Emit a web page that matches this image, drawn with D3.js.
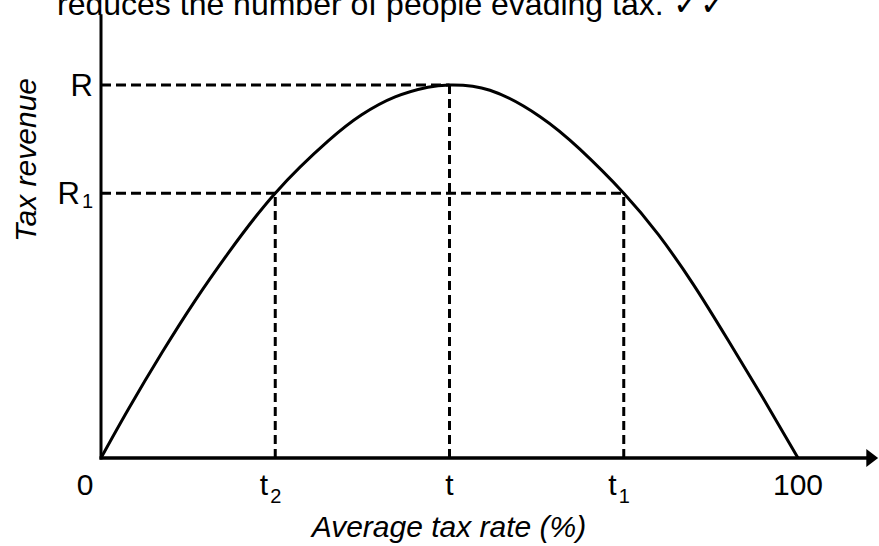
<!DOCTYPE html>
<html>
<head>
<meta charset="utf-8">
<script src="https://cdn.jsdelivr.net/npm/d3@7"></script>
<style>
  html, body { margin: 0; padding: 0; background: #fff; }
  text { font-family: 'Liberation Sans', Arial, sans-serif; fill: #000; }
</style>
</head>
<body>
<div id="chart"></div>
<script>
// Laffer curve (tax rate %, revenue as % of peak R)
const taxRate = [0, 3.9, 8.8, 13.5, 18.2, 25, 32.6, 37.4, 42.2, 46.9, 50, 55.8, 63, 68.7, 75, 80, 85, 90, 95, 100];
const revenue = [0, 13, 28.4, 42.2, 54.8, 71, 85, 92, 96.8, 99.4, 100, 98.6, 91.5, 82.8, 71, 59.8, 46.5, 31.5, 16, 0];

const xTickValues = [0, 25, 50, 75, 100];
const xTickLabels = ['0', 't', 't', 't', '100'];
const xTickSubs = ['', '2', '', '1', ''];

const yTickValues = [100, 71];
const yTickLabels = ['R', 'R'];
const yTickSubs = ['', '1'];

// dashed guides: [rate, revenue]
const guideRates = [25, 50, 75];
const guideRevenue = [71, 100, 71];

const width = 879;
const height = 546;

const svg = d3
  .select('#chart')
  .append('svg')
  .attr('width', width)
  .attr('height', height);

const x = d3.scaleLinear().domain([0, 100]).range([101, 798]);
const y = d3.scaleLinear().domain([0, 100]).range([458, 85]);

// caption cut off at the top (as in the source)
svg
  .append('text')
  .attr('x', 57)
  .attr('y', 15)
  .style('font-size', '32px')
  .text('reduces the number of people evading tax. \u2713\u2713');

// dashed guides
const guides = guideRates.map((r, i) => ({ r: r, v: guideRevenue[i] }));

svg
  .selectAll('.vguide')
  .data(guides)
  .enter()
  .append('line')
  .attr('class', 'vguide')
  .attr('x1', (d) => x(d.r))
  .attr('x2', (d) => x(d.r))
  .attr('y1', y(0))
  .attr('y2', (d) => y(d.v))
  .style('stroke', '#000')
  .style('stroke-width', 3)
  .style('stroke-dasharray', '9,5');

svg
  .selectAll('.hguide')
  .data(guides.filter((d) => d.r >= 50))
  .enter()
  .append('line')
  .attr('class', 'hguide')
  .attr('x1', x(0))
  .attr('x2', (d) => x(d.r))
  .attr('y1', (d) => y(d.v))
  .attr('y2', (d) => y(d.v))
  .style('stroke', '#000')
  .style('stroke-width', 3)
  .style('stroke-dasharray', '10,5');

// the curve
const points = taxRate.map((r, i) => [r, revenue[i]]);
const line = d3
  .line()
  .x((d) => x(d[0]))
  .y((d) => y(d[1]))
  .curve(d3.curveNatural);

svg
  .append('path')
  .datum(points)
  .attr('d', line)
  .style('fill', 'none')
  .style('stroke', '#000')
  .style('stroke-width', 3);

// axes
svg
  .append('line')
  .attr('x1', x(0))
  .attr('x2', x(0))
  .attr('y1', y(0) + 1.5)
  .attr('y2', y(119))
  .style('stroke', '#000')
  .style('stroke-width', 3);

svg
  .append('line')
  .attr('x1', x(0) - 1.5)
  .attr('x2', x(110))
  .attr('y1', y(0))
  .attr('y2', y(0))
  .style('stroke', '#000')
  .style('stroke-width', 3.5);

svg
  .append('path')
  .attr('d', `M${x(109.8)},${y(0) - 9}L${x(111.5)},${y(0)}L${x(109.8)},${y(0) + 9}Z`)
  .style('fill', '#000');

// x tick labels
const xLabels = svg
  .selectAll('.xlabel')
  .data(xTickValues)
  .enter()
  .append('text')
  .attr('class', 'xlabel')
  .attr('x', (d, i) => {
    if (i === 0) return x(d) - 16;
    if (xTickSubs[i]) return x(d) + 6;
    return x(d);
  })
  .attr('y', 495)
  .attr('text-anchor', (d, i) => (xTickSubs[i] ? 'end' : 'middle'))
  .style('font-size', '30px');

xLabels.append('tspan').text((d, i) => xTickLabels[i]);
xLabels
  .append('tspan')
  .attr('dx', 2)
  .attr('dy', 8)
  .style('font-size', '20px')
  .text((d, i) => xTickSubs[i]);

// y tick labels
const yLabels = svg
  .selectAll('.ylabel')
  .data(yTickValues)
  .enter()
  .append('text')
  .attr('class', 'ylabel')
  .attr('x', 93)
  .attr('y', (d) => y(d) + 11)
  .attr('text-anchor', 'end')
  .style('font-size', '31px');

yLabels.append('tspan').text((d, i) => yTickLabels[i]);
yLabels
  .append('tspan')
  .attr('dx', 2)
  .attr('dy', 4)
  .style('font-size', '20px')
  .text((d, i) => yTickSubs[i]);

// axis titles
svg
  .append('text')
  .attr('x', 449)
  .attr('y', 537)
  .attr('text-anchor', 'middle')
  .style('font-size', '30px')
  .style('font-style', 'italic')
  .text('Average tax rate (%)');

svg
  .append('text')
  .attr('transform', 'translate(36,160) rotate(-90)')
  .attr('text-anchor', 'middle')
  .style('font-size', '30px')
  .style('font-style', 'italic')
  .text('Tax revenue');
</script>
</body>
</html>
